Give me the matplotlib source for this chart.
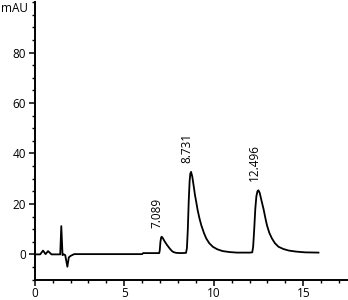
import matplotlib
matplotlib.use("Agg")
import matplotlib.pyplot as plt
from matplotlib.ticker import MultipleLocator

plt.rcParams['font.family'] = ['Open Sans', 'DejaVu Sans']

# retention time (min) and signal (mAU)
time = [0.0, 0.3, 0.46, 0.6, 0.74, 0.93, 1.42, 1.48, 1.55, 1.62, 1.7, 1.82, 1.9, 2.0, 2.2,
        6.0, 6.05,
        6.95, 6.98, 7.02, 7.06, 7.089, 7.15, 7.25, 7.38, 7.53, 7.65, 7.75, 7.9, 8.2,
        8.45, 8.5, 8.55, 8.6, 8.65, 8.69, 8.731, 8.8, 8.88, 8.95, 9.02, 9.1, 9.2, 9.3,
        9.45, 9.58, 9.75, 9.95, 10.2, 10.5, 10.9, 11.3, 12.0,
        12.15, 12.2, 12.26, 12.32, 12.38, 12.44, 12.496, 12.57, 12.66, 12.78, 12.88,
        12.97, 13.1, 13.25, 13.42, 13.62, 13.9, 14.2, 14.6, 15.1, 15.85]
signal = [0.0, 0.0, 1.5, 0.1, 1.3, 0.0, 0.0, 11.2, -0.3, 0.0, -0.3, -4.9, -1.2, -0.6, 0.1,
          0.1, 0.5,
          0.5, 1.5, 5.0, 6.7, 7.0, 6.5, 5.2, 3.8, 2.4, 1.4, 0.9, 0.6, 0.5,
          0.6, 2.5, 10.0, 21.0, 29.0, 32.0, 32.7, 30.8, 27.0, 23.5, 20.8, 17.5, 14.3, 11.6,
          8.5, 6.3, 4.4, 3.0, 2.0, 1.3, 0.9, 0.7, 0.7,
          0.8, 3.0, 10.0, 18.0, 23.0, 25.0, 25.4, 24.3, 21.5, 18.0, 14.5,
          11.6, 8.6, 6.3, 4.4, 3.0, 2.1, 1.5, 1.1, 0.8, 0.7]

peak_times = [7.089, 8.731, 12.496]
peak_heights = [7.0, 32.7, 25.4]
peak_labels = ["7.089", "8.731", "12.496"]

fig = plt.figure(figsize=(3.48, 3.0), dpi=100)
ax = fig.add_axes([0.1, 0.068, 0.9, 0.925])

ax.plot(time, signal, color='black', lw=1.3)

for t, h, lab in zip(peak_times, peak_heights, peak_labels):
    ax.text(t - 0.25, h + 3.5, lab, rotation=90, ha='center', va='bottom', fontsize=8.5)

ax.set_xlim(0, 17.5)
ax.set_ylim(-10, 100)
ax.xaxis.set_major_locator(MultipleLocator(5))
ax.xaxis.set_minor_locator(MultipleLocator(1))
ax.yaxis.set_minor_locator(MultipleLocator(5))
ax.set_yticks([0, 20, 40, 60, 80])
ax.tick_params(which='major', direction='out', length=4.5, width=1.1, labelsize=8.5)
ax.tick_params(axis='x', which='major', pad=1)
ax.tick_params(axis='y', which='major', pad=2)
ax.tick_params(which='minor', direction='out', length=2.5, width=1.0)

for side in ['top', 'right']:
    ax.spines[side].set_visible(False)
for side in ['left', 'bottom']:
    ax.spines[side].set_linewidth(1.4)

fig.text(0.003, 1 - 9 / 300, "mAU", ha='left', va='center', fontsize=8.5)

fig.savefig("out.png", dpi=100)
